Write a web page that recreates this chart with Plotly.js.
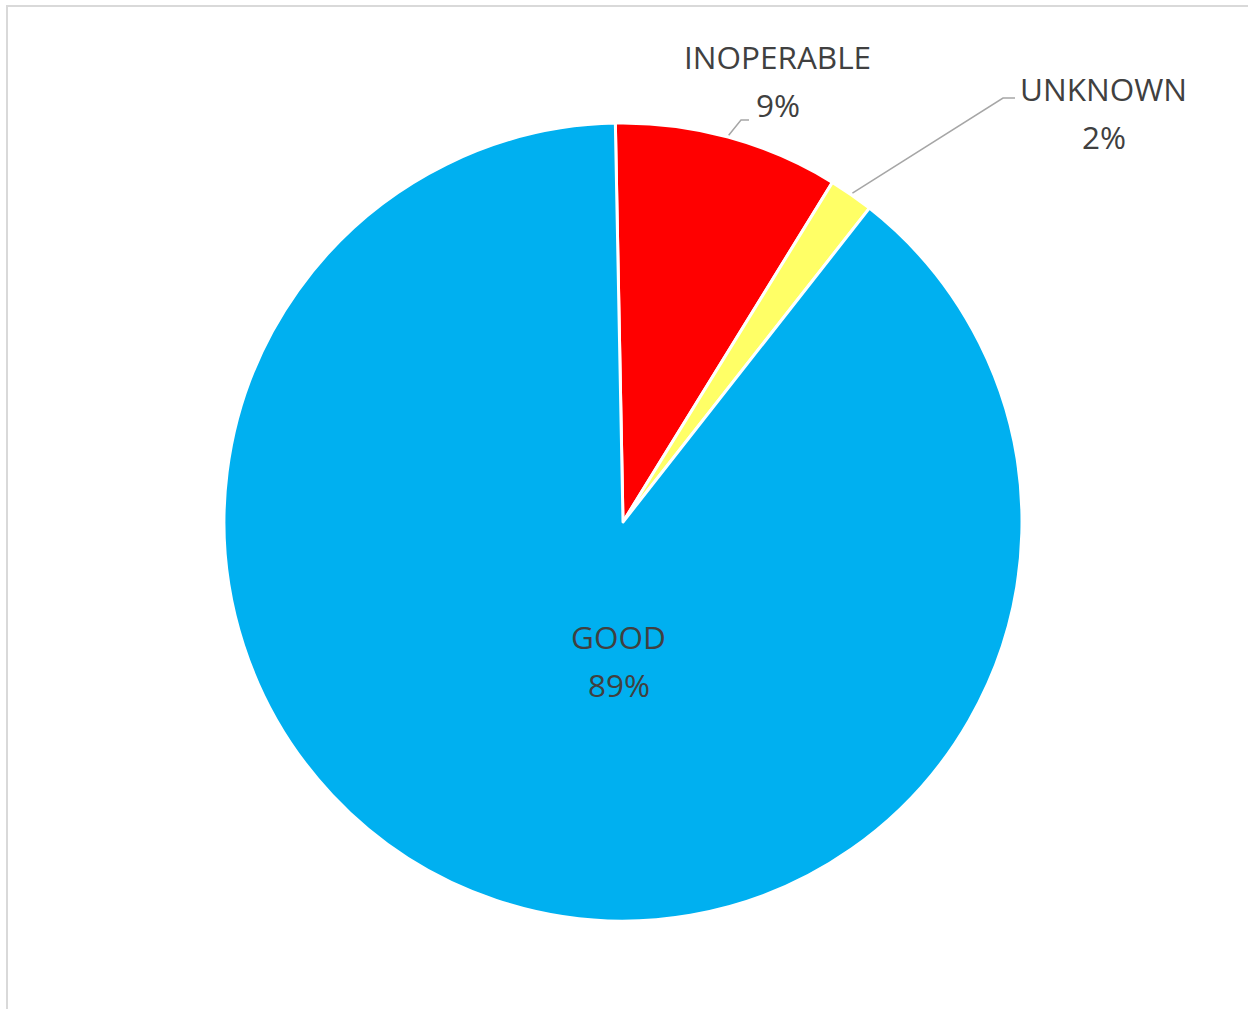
<!DOCTYPE html>
<html><head><meta charset="utf-8">
<script src="https://cdn.plot.ly/plotly-3.0.1.min.js"></script>
<style>html,body{margin:0;padding:0;background:#fff}#chart{width:1248px;height:1009px}</style>
</head><body><div id="chart"></div>
<script>
const labels = ['INOPERABLE', 'UNKNOWN', 'GOOD'];
const values = [9.1, 1.8, 89.1];
const colors = ['#FF0000', '#FFFF66', '#00B0F0'];

const W = 1248, H = 1009;
const cx = 623, cy = 522, R = 397;
const rotation = -1.1;
const px = x => x / W, py = y => 1 - y / H;

const total = values.reduce((a, b) => a + b, 0);
const pct = values.map(v => Math.round(v / total * 100) + '%');
let acc = 0;
const mids = values.map(v => { const m = rotation + (acc + v / 2) / total * 360; acc += v; return m * Math.PI / 180; });
const anchor = i => [cx + (R + 4) * Math.sin(mids[i]), cy - (R + 4) * Math.cos(mids[i])];

const font = {family: 'Open Sans, Noto Sans, sans-serif', size: 31.5, color: '#404040'};
// label layout: [nameX, nameY, pctX, pctY]
const labelPos = [[777, 57, 778, 105], [1103, 88, 1104, 137], [618, 636, 619, 684]];
const annotations = [];
labels.forEach((l, i) => {
  const p = labelPos[i];
  annotations.push({xref: 'paper', yref: 'paper', x: px(p[0]), y: py(p[1]), text: l, showarrow: false, font: font, xanchor: 'center', yanchor: 'middle'});
  annotations.push({xref: 'paper', yref: 'paper', x: px(p[2]), y: py(p[3]), text: pct[i], showarrow: false, font: font, xanchor: 'center', yanchor: 'middle'});
});

const elbows = [[[741, 120], [749, 120]], [[1003, 98], [1015, 98]]];
const shapes = [{type: 'rect', xref: 'paper', yref: 'paper', x0: px(7), y0: py(6), x1: px(1260), y1: py(1020), line: {color: '#D9D9D9', width: 2}, layer: 'below'}];
elbows.forEach((e, i) => {
  const a = anchor(i);
  shapes.push({type: 'path', xref: 'paper', yref: 'paper',
    path: `M ${px(a[0])} ${py(a[1])} L ${px(e[0][0])} ${py(e[0][1])} L ${px(e[1][0])} ${py(e[1][1])}`,
    line: {color: '#A6A6A6', width: 1.5}});
});

const Rd = R + 2;
const trace = {
  type: 'pie', labels: labels, values: values, sort: false, direction: 'clockwise', rotation: rotation,
  marker: {colors: colors, line: {color: '#FFFFFF', width: 3}},
  textinfo: 'none', hoverinfo: 'label+percent', showlegend: false,
  domain: {x: [px(cx - Rd), px(cx + Rd)], y: [py(cy + Rd), py(cy - Rd)]}
};

Plotly.newPlot('chart', [trace], {
  width: W, height: H, margin: {l: 0, r: 0, t: 0, b: 0},
  paper_bgcolor: '#FFFFFF', showlegend: false, annotations: annotations, shapes: shapes
}, {displayModeBar: false, staticPlot: true});
</script></body></html>
